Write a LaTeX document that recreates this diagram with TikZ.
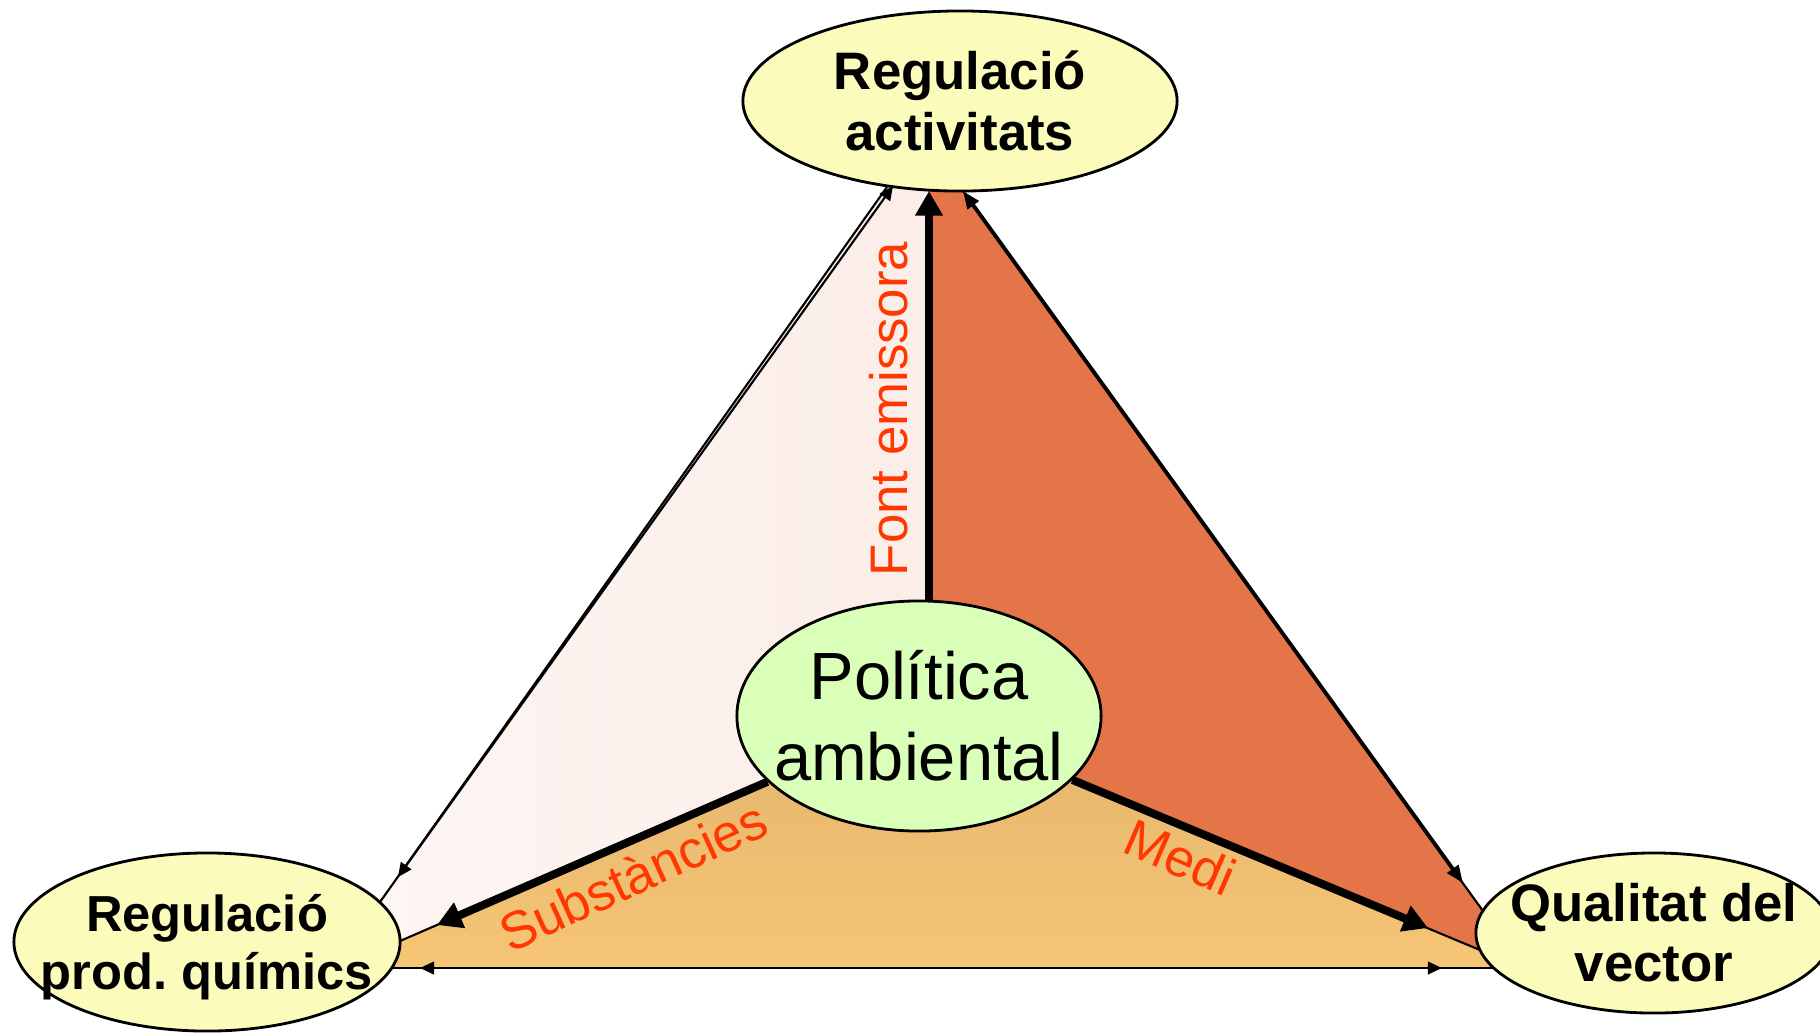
\documentclass[tikz,border=0pt]{standalone}
\usepackage{fontspec}
\setmainfont{Liberation Sans}
\usetikzlibrary{shapes.geometric,arrows.meta,backgrounds}
\frenchspacing

\definecolor{groc}{RGB}{251,251,187}
\definecolor{verd}{RGB}{218,255,185}
\definecolor{rosaclar}{RGB}{253,246,243}
\definecolor{rosa}{RGB}{251,237,232}
\definecolor{taronja}{RGB}{228,117,72}
\definecolor{sorradalt}{RGB}{228,180,109}
\definecolor{sorrabaix}{RGB}{246,197,117}
\definecolor{vermell}{RGB}{255,55,0}

\begin{document}
\begin{tikzpicture}[x=0.01cm,y=-0.01cm]
   \tikzstyle{eix}=[draw, ellipse, fill=groc, line width=0.8pt, inner sep=0pt]
   \tikzstyle{titol}=[align=center, inner sep=0pt, font=\bfseries\fontsize{15}{17.5}\selectfont]
   \tikzstyle{titolcentre}=[align=center, inner sep=0pt, font=\fontsize{19}{23}\selectfont]
   \tikzstyle{etiqueta}=[text=vermell, inner sep=0pt, font=\fontsize{15}{18}\selectfont]
   \tikzstyle{fina}=[line width=0.6pt]
   \tikzstyle{fletxa fina}=[fina, {Triangle[length=4pt,width=3.6pt]}-{Triangle[length=4pt,width=3.6pt]}]
   \tikzstyle{fletxa mitjana}=[line width=1.1pt, {Triangle[length=5pt,width=3.8pt]}-{Triangle[length=5pt,width=3.8pt]}]
   \tikzstyle{fletxa gruixuda}=[line width=2.3pt, -{Triangle[length=7pt,width=7.5pt]}]

\useasboundingbox (0,0) rectangle (1820,1032);

\node[eix, minimum width=4.34cm, minimum height=1.8cm,
      label={[titol]center:{Regulació\\activitats}}] (activitats) at (960,101) {};
\node[eix, minimum width=3.86cm, minimum height=1.78cm,
      label={[titol, font=\bfseries\fontsize{14.4}{16.3}\selectfont, yshift=-1.5pt]center:{Regulació\\prod. químics}}] (quimics) at (207,942) {};
\node[eix, minimum width=3.56cm, minimum height=1.6cm,
      label={[titol, font=\bfseries\fontsize{15}{17}\selectfont]center:{Qualitat del\\vector}}] (vector) at (1654,933) {};
\node[eix, fill=verd, minimum width=3.64cm, minimum height=2.3cm,
      label={[titolcentre]center:{Política\\ambiental}}] (politica) at (919,716) {};

% punts on les arestes toquen les el·lipses
\coordinate (esqcim) at (887,187);
\coordinate (esqfletxa) at (893,186);
\coordinate (fontcim) at (929,191);
\coordinate (dretcim) at (963,191);
\coordinate (esqbaix) at (380,902);
\coordinate (esqfletxabaix) at (398,877);
\coordinate (substbaix) at (400,941);
\coordinate (substpunta) at (437,925);
\coordinate (dretbaix) at (1483,911);
\coordinate (dretfletxabaix) at (1463,883);
\coordinate (medibaix) at (1480,950);
\coordinate (medipunta) at (1428,928);
\coordinate (baixesq) at (392,968);
\coordinate (baixdret) at (1494,968);
\coordinate (baixfletxaesq) at (420,968);
\coordinate (baixfletxadret) at (1442,968);

\begin{scope}[on background layer]
   % cares del triangle
   \fill[left color=rosaclar, right color=rosa] (esqcim) -- (fontcim) -- (politica.center -| fontcim)
      -- (politica.center) -- (substbaix) -- (esqbaix) -- cycle;
   \fill[taronja] (fontcim) -- (dretcim) -- (dretbaix) -- (medibaix) -- (politica.center)
      -- (politica.center -| fontcim) -- cycle;
   \fill[top color=sorradalt, bottom color=sorrabaix] (politica.center) -- (medibaix) -- (baixdret)
      -- (baixesq) -- (substbaix) -- cycle;

   % arestes
   \draw[fina] (esqcim) -- (esqbaix);
   \draw[fletxa fina] (esqfletxabaix) -- (esqfletxa);
   \draw[fina] (dretcim) -- (dretbaix);
   \draw[fletxa mitjana] (dretcim) -- (dretfletxabaix);
   \draw[fina] (baixesq) -- (baixdret);
   \draw[fletxa fina] (baixfletxaesq) -- (baixfletxadret);
   \draw[fina] (politica) -- (substbaix);
   \draw[fina] (politica) -- (medibaix);

   % fletxes des del centre
   \draw[fletxa gruixuda] (politica.north -| fontcim) -- (fontcim);
   \draw[fletxa gruixuda] (politica) -- (substpunta);
   \draw[fletxa gruixuda] (politica) -- (medipunta);
\end{scope}

\node[etiqueta, rotate=90, anchor=base] (font) at (907,409) {Font emissora};
\node[etiqueta, rotate=24.5] (substancies) at (633,876) {Substàncies};
\node[etiqueta, rotate=-23.5] (medi) at (1180,857) {Medi};

\end{tikzpicture}
\end{document}
